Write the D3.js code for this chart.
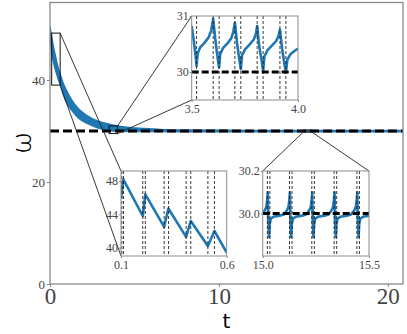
<!DOCTYPE html>
<html>
<head>
<meta charset="utf-8">
<script src="https://cdn.jsdelivr.net/npm/d3@7"></script>
<style>
  body { margin: 0; background: #fff; }
  svg { display: block; }
</style>
</head>
<body>
<div id="chart"></div>
<script>
// ---- Data ----
const xTicksMain = [0, 10, 20];
const yTicksMain = [0, 20, 40];
const refOmega = 30;

// envelope of the fast oscillation in the main panel
const bandT     = [0, 0.1, 0.2, 0.3, 0.4, 0.5, 0.6, 0.8, 1.0, 1.3, 1.7, 2.2, 2.7, 3.2, 3.7, 4.2, 4.7, 5.5, 6.5, 8, 12, 21];
const bandUpper = [50.4, 48.4, 46.6, 45.0, 43.5, 42.2, 41.2, 39.2, 37.8, 36.0, 34.3, 33.0, 32.1, 31.6, 31.2, 30.9, 30.7, 30.5, 30.3, 30.2, 30.12, 30.1];
const bandLower = [49.5, 45.7, 43.6, 42.3, 41.1, 40.0, 39.2, 37.0, 35.4, 34.0, 32.5, 31.5, 30.8, 30.3, 30.0, 29.95, 29.92, 29.9, 29.88, 29.87, 29.87, 29.87];

// inset 1: t in [0.1, 0.6]
const inset1Curve = [
  [0.100, 45.9], [0.111, 48.2], [0.203, 43.8], [0.215, 46.4], [0.304, 42.5],
  [0.324, 44.7], [0.408, 41.3], [0.430, 43.2], [0.511, 40.2], [0.542, 42.0], [0.600, 39.4]
];
const inset1Pulses = [0.104, 0.112, 0.203, 0.215, 0.304, 0.325, 0.408, 0.430, 0.511, 0.542];

// inset 2: t in [3.5, 4.0]
const inset2Curve = [
  [3.500, 30.82], [3.510, 30.55], [3.518, 30.30], [3.523, 30.11], [3.528, 30.33],
  [3.540, 30.44], [3.560, 30.52], [3.580, 30.62], [3.592, 30.74], [3.601, 30.95],
  [3.612, 30.55], [3.622, 30.25], [3.629, 30.08], [3.634, 30.32], [3.648, 30.43],
  [3.668, 30.51], [3.686, 30.60], [3.696, 30.72], [3.703, 30.88], [3.714, 30.50],
  [3.724, 30.22], [3.731, 30.05], [3.737, 30.30], [3.752, 30.41], [3.772, 30.49],
  [3.792, 30.58], [3.802, 30.68], [3.808, 30.82], [3.818, 30.45], [3.829, 30.20],
  [3.836, 30.02], [3.842, 30.28], [3.857, 30.39], [3.877, 30.47], [3.897, 30.55],
  [3.908, 30.64], [3.915, 30.76], [3.925, 30.42], [3.936, 30.15], [3.943, 29.99],
  [3.950, 30.22], [3.965, 30.32], [3.985, 30.38], [4.000, 30.42]
];
const inset2Pulses = [3.523, 3.601, 3.629, 3.703, 3.731, 3.808, 3.836, 3.915, 3.943];

// inset 3: t in [15.0, 15.5]
const inset3Curve = [
  [15.000, 30.005], [15.010, 30.015], [15.017, 30.03], [15.021, 30.06], [15.024, 30.10],
  [15.027, 29.95], [15.030, 29.89], [15.033, 29.95], [15.038, 29.975], [15.050, 29.985],
  [15.080, 29.99], [15.100, 29.995], [15.114, 30.015], [15.121, 30.03], [15.125, 30.06],
  [15.128, 30.10], [15.131, 29.95], [15.134, 29.89], [15.137, 29.95], [15.142, 29.975],
  [15.155, 29.985], [15.185, 29.99], [15.205, 29.995], [15.219, 30.015], [15.226, 30.03],
  [15.230, 30.06], [15.233, 30.10], [15.236, 29.95], [15.239, 29.89], [15.242, 29.95],
  [15.247, 29.975], [15.260, 29.985], [15.290, 29.99], [15.310, 29.995], [15.324, 30.015],
  [15.331, 30.03], [15.335, 30.06], [15.338, 30.10], [15.341, 29.95], [15.344, 29.89],
  [15.347, 29.95], [15.352, 29.975], [15.365, 29.985], [15.395, 29.99], [15.415, 29.995],
  [15.431, 30.015], [15.438, 30.03], [15.442, 30.06], [15.445, 30.10], [15.448, 29.95],
  [15.451, 29.89], [15.454, 29.95], [15.459, 29.975], [15.472, 29.985], [15.500, 29.99]
];
const inset3Pulses = [15.022, 15.034, 15.126, 15.138, 15.231, 15.243, 15.336, 15.348, 15.443, 15.455];

// ---- Layout ----
const width = 407, height = 334;
const plot = {left: 50, right: 403, top: 2.5, bottom: 284};
const blue = "#1f77b4";
const spineColor = "#8a8a8a";
const tickFont = "'Liberation Serif', 'DejaVu Serif', serif";

const xScale = d3.scaleLinear().domain([0, 20.9]).range([plot.left, plot.right]);
const yScale = d3.scaleLinear().domain([0, 55.2]).range([plot.bottom, plot.top]);

const svg = d3.select("#chart")
  .append("svg")
    .attr("width", width)
    .attr("height", height);

const defs = svg.append("defs");
defs.append("clipPath").attr("id", "clipMain")
  .append("rect")
    .attr("x", plot.left).attr("y", plot.top)
    .attr("width", plot.right - plot.left).attr("height", plot.bottom - plot.top);

// ---- Main panel ----
const main = svg.append("g").attr("clip-path", "url(#clipMain)");

const band = bandT.map((t, i) => ({t: t, hi: bandUpper[i], lo: bandLower[i]}));
main.append("path")
  .datum(band)
  .attr("d", d3.area()
    .x(d => xScale(d.t))
    .y0(d => yScale(d.lo))
    .y1(d => yScale(d.hi))
    .curve(d3.curveMonotoneX))
  .attr("fill", blue)
  .attr("stroke", blue)
  .attr("stroke-width", 1.5)
  .attr("stroke-linejoin", "round");

main.append("line")
  .attr("x1", xScale(0)).attr("x2", xScale(20.9))
  .attr("y1", yScale(refOmega)).attr("y2", yScale(refOmega))
  .attr("stroke", "#000")
  .attr("stroke-width", 3)
  .attr("stroke-dasharray", "9,4");

// Main axes
const xAxis = svg.append("g")
  .attr("transform", `translate(0, ${plot.bottom})`)
  .call(d3.axisBottom(xScale).tickValues(xTicksMain).tickSize(3).tickPadding(1).tickFormat(d3.format("d")));
xAxis.selectAll("text").style("font-size", "23px");

const yAxis = svg.append("g")
  .attr("transform", `translate(${plot.left}, 0)`)
  .call(d3.axisLeft(yScale).tickValues(yTicksMain).tickSize(3).tickPadding(2).tickFormat(d3.format("d")));
yAxis.selectAll("text").style("font-size", "13px");

[xAxis, yAxis].forEach(ax => {
  ax.select(".domain").remove();
  ax.selectAll("line").attr("stroke", spineColor);
  ax.selectAll("text").attr("fill", "#444").style("font-family", tickFont);
});

svg.append("rect")
  .attr("x", plot.left).attr("y", plot.top)
  .attr("width", plot.right - plot.left).attr("height", plot.bottom - plot.top)
  .attr("fill", "none")
  .attr("stroke", spineColor)
  .attr("stroke-width", 1.3);

// Axis labels
svg.append("text")
  .attr("x", (plot.left + plot.right) / 2)
  .attr("y", 328)
  .attr("text-anchor", "middle")
  .style("font-family", "'DejaVu Sans', sans-serif")
  .style("font-size", "20px")
  .text("t");

svg.append("text")
  .attr("transform", "translate(20, 143) rotate(-90)")
  .attr("text-anchor", "middle")
  .attr("dominant-baseline", "central")
  .style("font-family", "'Open Sans', sans-serif")
  .style("font-weight", 300)
  .style("font-size", "28px")
  .text("ω");

// ---- Insets ----
const insets = [
  {id: "in1", box: {left: 121, right: 226.7, top: 171, bottom: 256},
   xDomain: [0.1, 0.6], yDomain: [39.0, 49.2],
   xTicks: [0.1, 0.6], yTicks: [40, 44, 48], xFmt: ".1f", yFmt: "d",
   curve: inset1Curve, pulses: inset1Pulses, showRef: false,
   links: [["right", "top", "left", "top"], ["right", "bottom", "left", "bottom"]]},
  {id: "in2", box: {left: 191.7, right: 298, top: 16, bottom: 100},
   xDomain: [3.5, 4.0], yDomain: [29.5, 31.0],
   xTicks: [3.5, 4.0], yTicks: [30, 31], xFmt: ".1f", yFmt: "d",
   curve: inset2Curve, pulses: inset2Pulses, showRef: true,
   links: [["right", "top", "left", "top"], ["right", "bottom", "left", "bottom"]]},
  {id: "in3", box: {left: 262.7, right: 369, top: 171, bottom: 256},
   xDomain: [15.0, 15.5], yDomain: [29.8, 30.2],
   xTicks: [15.0, 15.5], yTicks: [30.0, 30.2], xFmt: ".1f", yFmt: ".1f",
   curve: inset3Curve, pulses: inset3Pulses, showRef: true,
   links: [["left", "bottom", "left", "top"], ["right", "bottom", "right", "top"]]}
];

insets.forEach(cfg => {
  // zoom box on the main panel
  const zb = {
    left: xScale(cfg.xDomain[0]), right: xScale(cfg.xDomain[1]),
    top: yScale(cfg.yDomain[1]), bottom: yScale(cfg.yDomain[0])
  };
  svg.append("rect")
    .attr("x", zb.left).attr("y", zb.top)
    .attr("width", zb.right - zb.left).attr("height", zb.bottom - zb.top)
    .attr("fill", "none")
    .attr("stroke", "#111")
    .attr("stroke-width", 1);

  cfg.links.forEach(l => {
    svg.append("line")
      .attr("x1", zb[l[0]]).attr("y1", zb[l[1]])
      .attr("x2", cfg.box[l[2]]).attr("y2", cfg.box[l[3]])
      .attr("stroke", "#222")
      .attr("stroke-width", 0.9);
  });
});

insets.forEach(cfg => {
  const b = cfg.box;
  const xs = d3.scaleLinear().domain(cfg.xDomain).range([b.left, b.right]);
  const ys = d3.scaleLinear().domain(cfg.yDomain).range([b.bottom, b.top]);

  defs.append("clipPath").attr("id", "clip-" + cfg.id)
    .append("rect")
      .attr("x", b.left).attr("y", b.top)
      .attr("width", b.right - b.left).attr("height", b.bottom - b.top);

  const g = svg.append("g");
  g.append("rect")
    .attr("x", b.left).attr("y", b.top)
    .attr("width", b.right - b.left).attr("height", b.bottom - b.top)
    .attr("fill", "#fff");

  const inner = g.append("g").attr("clip-path", `url(#clip-${cfg.id})`);

  inner.append("path")
    .datum(cfg.curve)
    .attr("d", d3.line().x(d => xs(d[0])).y(d => ys(d[1])))
    .attr("fill", "none")
    .attr("stroke", blue)
    .attr("stroke-width", 2.6)
    .attr("stroke-linejoin", "round");

  inner.selectAll(".pulse")
    .data(cfg.pulses)
    .join("line")
      .attr("class", "pulse")
      .attr("x1", d => xs(d)).attr("x2", d => xs(d))
      .attr("y1", b.top).attr("y2", b.bottom)
      .attr("stroke", "#222")
      .attr("stroke-width", 0.9)
      .attr("stroke-dasharray", "3,2");

  if (cfg.showRef) {
    inner.append("line")
      .attr("x1", b.left).attr("x2", b.right)
      .attr("y1", ys(refOmega)).attr("y2", ys(refOmega))
      .attr("stroke", "#000")
      .attr("stroke-width", 3)
      .attr("stroke-dasharray", "7,3");
  }

  const ax = g.append("g")
    .attr("transform", `translate(0, ${b.bottom})`)
    .call(d3.axisBottom(xs).tickValues(cfg.xTicks).tickSize(2).tickPadding(2).tickFormat(d3.format(cfg.xFmt)));
  const ay = g.append("g")
    .attr("transform", `translate(${b.left}, 0)`)
    .call(d3.axisLeft(ys).tickValues(cfg.yTicks).tickSize(2).tickPadding(1).tickFormat(d3.format(cfg.yFmt)));
  [ax, ay].forEach(a => {
    a.select(".domain").remove();
    a.selectAll("line").attr("stroke", spineColor);
    a.selectAll("text")
      .attr("fill", "#444")
      .style("font-family", tickFont)
      .style("font-size", "12px");
  });

  g.append("rect")
    .attr("x", b.left).attr("y", b.top)
    .attr("width", b.right - b.left).attr("height", b.bottom - b.top)
    .attr("fill", "none")
    .attr("stroke", spineColor)
    .attr("stroke-width", 1);
});
</script>
</body>
</html>
